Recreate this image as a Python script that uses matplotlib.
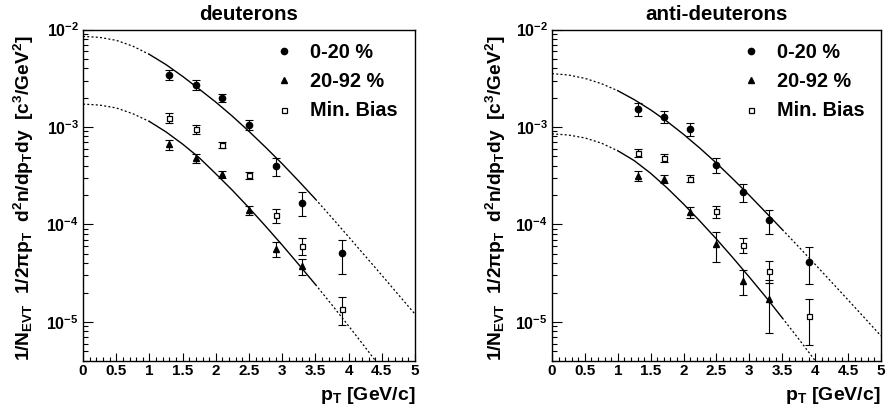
import numpy as np
import matplotlib
matplotlib.use("Agg")
import matplotlib.pyplot as plt
from matplotlib.ticker import MultipleLocator, LogLocator, NullFormatter, FuncFormatter

plt.rcParams['font.family'] = ['Liberation Sans', 'DejaVu Sans']
plt.rcParams['font.weight'] = 'bold'
plt.rcParams['axes.labelweight'] = 'bold'
plt.rcParams['mathtext.default'] = 'regular'

# pT bins (GeV/c)
pt = [1.3, 1.7, 2.1, 2.5, 2.9, 3.3, 3.9]

# deuterons
d_central = [3.45e-3, 2.72e-3, 1.99e-3, 1.06e-3, 3.97e-4, 1.68e-4, 5.04e-5]
d_central_err = [0.125, 0.11, 0.09, 0.12, 0.20, 0.27, 0.39]
d_periph = [6.64e-4, 4.77e-4, 3.27e-4, 1.40e-4, 5.6e-5, 3.73e-5]
d_periph_err = [0.12, 0.11, 0.09, 0.10, 0.18, 0.19]
d_minbias = [1.25e-3, 9.46e-4, 6.53e-4, 3.19e-4, 1.24e-4, 6.08e-5, 1.37e-5]
d_minbias_err = [0.12, 0.10, 0.07, 0.08, 0.17, 0.20, 0.32]

# anti-deuterons
ad_central = [1.52e-3, 1.28e-3, 9.46e-4, 4.07e-4, 2.14e-4, 1.10e-4, 4.16e-5]
ad_central_err = [0.15, 0.15, 0.15, 0.17, 0.21, 0.27, 0.41]
ad_periph = [3.17e-4, 2.93e-4, 1.33e-4, 6.27e-5, 2.64e-5, 1.72e-5]
ad_periph_err = [0.125, 0.10, 0.13, 0.35, 0.29, 0.55]
ad_minbias = [5.45e-4, 4.84e-4, 2.95e-4, 1.36e-4, 6.17e-5, 3.34e-5, 1.15e-5]
ad_minbias_err = [0.10, 0.10, 0.08, 0.14, 0.17, 0.25, 0.50]

# fit curves, every 0.25 GeV/c
fit_pt = [0, 0.25, 0.5, 0.75, 1.0, 1.25, 1.5, 1.75, 2.0, 2.25, 2.5, 2.75, 3.0,
          3.25, 3.5, 3.75, 4.0, 4.25, 4.5, 4.75, 5.0]
d_fit_central = [8.51e-3, 8.32e-3, 7.76e-3, 6.76e-3, 5.56e-3, 4.37e-3, 3.31e-3, 2.45e-3,
                 1.80e-3, 1.29e-3, 9.02e-4, 6.19e-4, 4.19e-4, 2.78e-4, 1.82e-4, 1.17e-4,
                 7.46e-5, 4.74e-5, 3.01e-5, 1.90e-5, 1.20e-5]
d_fit_periph = [1.72e-3, 1.68e-3, 1.57e-3, 1.37e-3, 1.14e-3, 8.91e-4, 6.68e-4, 4.84e-4,
                3.31e-4, 2.24e-4, 1.48e-4, 9.59e-5, 6.14e-5, 3.87e-5, 2.42e-5, 1.49e-5,
                9.08e-6, 5.48e-6, 3.28e-6]
ad_fit_central = [3.53e-3, 3.42e-3, 3.16e-3, 2.79e-3, 2.36e-3, 1.91e-3, 1.50e-3, 1.14e-3,
                  8.41e-4, 6.05e-4, 4.26e-4, 2.93e-4, 1.99e-4, 1.33e-4, 8.87e-5, 5.89e-5,
                  3.89e-5, 2.56e-5, 1.68e-5, 1.10e-5, 7.18e-6]
ad_fit_periph = [8.51e-4, 8.28e-4, 7.73e-4, 6.84e-4, 5.71e-4, 4.52e-4, 3.35e-4, 2.37e-4,
                 1.62e-4, 1.08e-4, 7.08e-5, 4.55e-5, 2.88e-5, 1.80e-5, 1.10e-5, 6.68e-6,
                 4.0e-6, 2.37e-6]
fit_range = (1.0, 3.5)

labels = ['0-20 %', '20-92 %', 'Min. Bias']
ylabel = '1/N$_{EVT}$  1/2πp$_T$  d$^2$n/dp$_T$dy  [c$^3$/GeV$^2$]'


def draw_fit(ax, vals):
    x = np.array(fit_pt[:len(vals)])
    y = np.array(vals)
    inside = (x >= fit_range[0]) & (x <= fit_range[1])
    lo = x <= fit_range[0]
    hi = x >= fit_range[1]
    ax.plot(x[inside], y[inside], color='k', lw=1.0, zorder=2)
    ax.plot(x[lo], y[lo], color='k', lw=0.9, ls=(0, (1.6, 1.8)), zorder=2)
    ax.plot(x[hi], y[hi], color='k', lw=0.9, ls=(0, (1.6, 1.8)), zorder=2)


def panel(ax, title, central, c_err, periph, p_err, mb, m_err, fit_c, fit_p, ylab_x):
    draw_fit(ax, fit_c)
    draw_fit(ax, fit_p)

    series = [(central, c_err, dict(marker='o', ms=4.5, mfc='k', mec='k')),
              (periph, p_err, dict(marker='^', ms=4.2, mfc='k', mec='k')),
              (mb, m_err, dict(marker='s', ms=3.6, mfc='white', mec='k', mew=0.9))]
    for (vals, err, style), lab in zip(series, labels):
        x = pt[:len(vals)]
        v = np.array(vals)
        ax.errorbar(x, v, yerr=v * np.array(err), fmt='none', ecolor='k',
                    elinewidth=0.8, capsize=2.6, capthick=0.8, zorder=3)
        ax.plot(x, v, ls='none', color='k', label=lab, zorder=4, **style)

    ax.set_yscale('log')
    ax.set_xlim(0, 5)
    ax.set_ylim(4e-6, 1e-2)
    ax.xaxis.set_major_locator(MultipleLocator(0.5))
    ax.xaxis.set_minor_locator(MultipleLocator(0.1))
    ax.xaxis.set_major_formatter(FuncFormatter(lambda v, p: '%g' % v))
    ax.yaxis.set_major_locator(LogLocator(base=10, numticks=10))
    ax.yaxis.set_minor_locator(LogLocator(base=10, subs=np.arange(2, 10), numticks=20))
    ax.yaxis.set_minor_formatter(NullFormatter())
    ax.tick_params(which='both', direction='in', top=False, right=False, width=0.8)
    ax.tick_params(axis='y', which='major', length=7, pad=3, labelsize=11.5)
    ax.tick_params(axis='y', which='minor', length=3.6)
    ax.tick_params(axis='x', which='major', length=5.5, pad=2.5, labelsize=11)
    ax.tick_params(axis='x', which='minor', length=3)
    for s in ax.spines.values():
        s.set_linewidth(1.0)

    ax.text(0.5, 1.045, title, transform=ax.transAxes, ha='center', va='center', fontsize=14.8)
    ax.set_xlabel('p$_T$ [GeV/c]', fontsize=14, ha='right', va='center')
    ax.xaxis.set_label_coords(1.0, -0.104)
    ax.set_ylabel(ylabel, fontsize=13.8, va='center')
    ax.yaxis.set_label_coords(ylab_x, 0.49)

    ax.legend(loc='upper left', bbox_to_anchor=(0.575, 0.96), frameon=False, fontsize=14.3,
              numpoints=1, handlelength=1.0, handletextpad=0.8, labelspacing=0.52,
              borderpad=0, borderaxespad=0)


fig = plt.figure(figsize=(8.88, 4.11), dpi=100)
ax1 = fig.add_axes([0.0935, 0.1224, 0.3739, 0.8056])
ax2 = fig.add_axes([0.6216, 0.1224, 0.3705, 0.8056])

panel(ax1, 'deuterons', d_central, d_central_err, d_periph, d_periph_err,
      d_minbias, d_minbias_err, d_fit_central, d_fit_periph, -0.178)
panel(ax2, 'anti-deuterons', ad_central, ad_central_err, ad_periph, ad_periph_err,
      ad_minbias, ad_minbias_err, ad_fit_central, ad_fit_periph, -0.17)

fig.savefig('out.png', dpi=100)
